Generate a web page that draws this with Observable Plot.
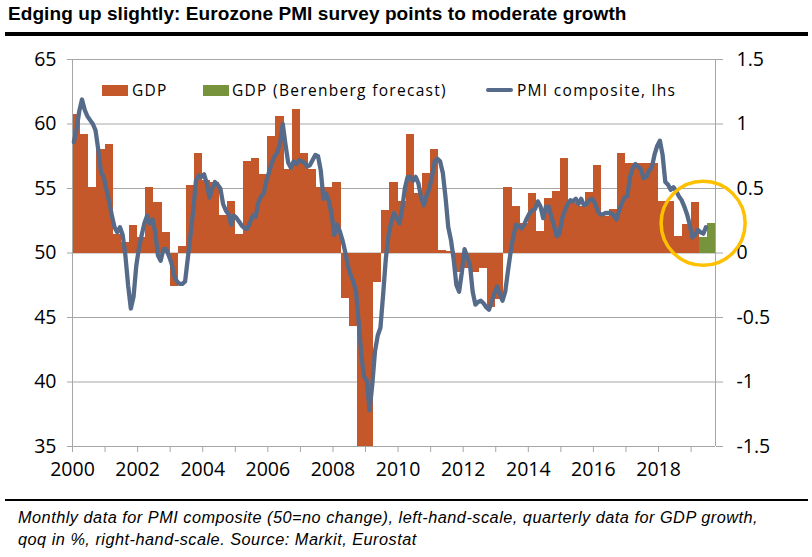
<!DOCTYPE html>
<html>
<head>
<meta charset="utf-8">
<script src="https://cdn.jsdelivr.net/npm/d3@7"></script>
<script src="https://cdn.jsdelivr.net/npm/@observablehq/plot@0.6"></script>
<style>
  body { margin: 0; background: #fff; }
  #wrap { position: relative; width: 812px; height: 557px; overflow: hidden; background: #fff; }
  #title { position: absolute; left: 8px; top: 4px; font: bold 19px/20px "Liberation Sans", Arial, sans-serif; letter-spacing: 0.08px; white-space: nowrap; color: #000; }
  .rule { position: absolute; left: 5px; width: 803px; background: #000; }
  #chart { position: absolute; left: 0; top: 40px; }
  .leg { position: absolute; font: 15.5px/20px "Open Sans", sans-serif; letter-spacing: 1.3px; white-space: nowrap; color: #000; }
  .sw { position: absolute; }
  #caption { position: absolute; left: 18px; top: 506px; font: italic 16.3px/22px "Liberation Sans", Arial, sans-serif; letter-spacing: 0.5px; color: #000; white-space: nowrap; }
</style>
</head>
<body>
<div id="wrap">
  <div id="title">Edging up slightly: Eurozone PMI survey points to moderate growth</div>
  <div class="rule" style="top:32px;height:3.5px"></div>
  <div id="chart"></div>
  <div id="legend"></div>
  <div class="rule" style="top:499px;height:2px"></div>
  <div id="caption"></div>
</div>
<script>
// ---- Data ----
const gdpStart = 2000; // first quarter: 2000 Q1
// Quarterly GDP growth, qoq in % (right-hand scale)
const gdpActual = [
  1.07, 0.92, 0.51, 0.80,   // 2000
  0.84, 0.14, 0.08, 0.21,   // 2001
  0.12, 0.51, 0.39, 0.16,   // 2002
  -0.26, 0.05, 0.52, 0.77,  // 2003
  0.56, 0.55, 0.29, 0.40,   // 2004
  0.14, 0.71, 0.73, 0.61,   // 2005
  0.90, 1.06, 0.65, 1.11,   // 2006
  0.77, 0.65, 0.51, 0.51,   // 2007
  0.55, -0.35, -0.57, -1.6, // 2008
  -2.9, -0.23, 0.33, 0.55,  // 2009
  0.40, 0.92, 0.46, 0.62,   // 2010
  0.80, 0.02, 0.01, -0.15,  // 2011
  -0.12, -0.15, -0.12, -0.42, // 2012
  -0.36, 0.51, 0.36, 0.23,  // 2013
  0.46, 0.17, 0.42, 0.48,   // 2014
  0.73, 0.38, 0.36, 0.47,   // 2015
  0.68, 0.28, 0.34, 0.77,   // 2016
  0.69, 0.69, 0.69, 0.69,   // 2017
  0.40, 0.40, 0.13, 0.22,   // 2018
  0.39                      // 2019 Q1
];
// Berenberg forecast: 2019 Q2, Q3
const gdpForecast = [0.12, 0.23];

// Monthly PMI composite (left-hand scale), Jan 2000 - Jun 2019
const pmiStart = 2000;
const pmi = [
  58.6, 59.6, 61.0, 61.9, 61.1, 60.6, 60.3, 60.0, 59.5, 58.0, 56.3, 55.9, // 2000
  54.9, 54.0, 52.9, 52.0, 51.6, 52.0, 51.4, 49.8, 47.5, 45.7, 46.6, 49.0, // 2001
  50.4, 51.4, 52.3, 52.9, 52.3, 52.6, 51.6, 49.8, 49.4, 50.3, 50.3, 49.8, // 2002
  49.2, 48.2, 47.8, 47.6, 47.6, 47.8, 49.6, 51.4, 53.3, 55.6, 56.0, 55.9, // 2003
  56.1, 55.4, 54.3, 55.0, 55.5, 55.3, 55.0, 53.8, 53.3, 53.0, 52.2, 52.9, // 2004
  52.7, 52.4, 52.1, 51.9, 51.9, 52.4, 52.9, 52.8, 53.9, 54.4, 54.6, 55.6, // 2005
  56.3, 57.0, 57.5, 57.8, 58.5, 60.0, 58.4, 57.0, 56.6, 57.1, 56.9, 57.2, // 2006
  57.1, 57.0, 56.7, 56.8, 57.2, 57.6, 57.5, 56.4, 54.2, 54.6, 54.0, 53.0, // 2007
  51.4, 52.2, 51.7, 51.0, 50.1, 49.0, 48.3, 47.8, 47.0, 44.6, 42.0, 40.4, // 2008
  40.1, 37.8, 39.8, 42.4, 43.6, 44.2, 46.8, 49.6, 51.4, 52.4, 53.1, 52.7, // 2009
  52.3, 53.4, 55.0, 55.9, 55.9, 55.6, 55.9, 55.4, 54.3, 53.7, 54.4, 55.0, // 2010
  55.9, 57.1, 57.3, 57.1, 56.2, 54.3, 52.0, 51.0, 49.5, 47.5, 47.0, 48.5, // 2011
  50.3, 49.7, 49.1, 47.0, 46.0, 46.2, 46.3, 46.1, 45.8, 45.6, 46.2, 46.9, // 2012
  47.4, 46.8, 46.3, 47.0, 48.6, 50.1, 51.3, 52.2, 52.1, 51.9, 52.2, 52.7, // 2013
  53.1, 53.3, 53.4, 54.0, 53.6, 52.7, 53.6, 53.6, 52.8, 52.1, 51.3, 51.5, // 2014
  52.7, 53.3, 53.8, 54.1, 54.0, 54.2, 53.8, 54.2, 53.7, 53.8, 54.1, 54.2, // 2015
  53.9, 53.3, 53.0, 53.0, 53.1, 53.1, 53.1, 52.9, 52.6, 53.3, 53.9, 54.3, // 2016
  54.4, 55.9, 56.6, 56.9, 56.7, 56.5, 55.8, 55.9, 56.4, 56.6, 57.6, 58.3, // 2017
  58.7, 57.6, 55.5, 55.3, 54.9, 55.1, 54.8, 54.4, 54.1, 53.6, 53.0, 52.2, // 2018
  51.2, 51.4, 51.8, 51.6, 51.5, 52.0                                      // 2019
];

const legendLabels = ["GDP", "GDP (Berenberg forecast)", "PMI composite, lhs"];
const lhsTicks = [35, 40, 45, 50, 55, 60, 65];
const rhsTicks = [-1.5, -1, -0.5, 0, 0.5, 1, 1.5];
const yearTicks = d3.range(2000, 2020);
const yearLabels = [2000, 2002, 2004, 2006, 2008, 2010, 2012, 2014, 2016, 2018];
const xDomain = [2000, 2019.75];
const highlight = [{t: 2019.37, v: 52.3}]; // circled latest readings
const captionLines = [
  "Monthly data for PMI composite (50=no change), left-hand-scale, quarterly data for GDP growth,",
  "qoq in %, right-hand-scale. Source: Markit, Eurostat"
];

// ---- Styling ----
const orange = "#C5582B";
const green = "#77933C";
const lineColor = "#566A8A";
const gray = "#A6A6A6";
const ring = "#FFC000";

// rhs value -> lhs (PMI) units: 0 <-> 50, 1.5 <-> 65
const toLhs = g => 50 + 10 * g;

const bars = gdpActual.map((g, k) => ({x1: gdpStart + k / 4, x2: gdpStart + (k + 1) / 4, g, s: legendLabels[0]}))
  .concat(gdpForecast.map((g, k) => {
    const q = gdpActual.length + k;
    return {x1: gdpStart + q / 4, x2: gdpStart + (q + 1) / 4, g, s: legendLabels[1]};
  }));
const pmiData = pmi.map((v, i) => ({t: pmiStart + (i + 0.5) / 12, v}));

const plot = Plot.plot({
  width: 812,
  height: 445,
  marginLeft: 72,
  marginRight: 97,
  marginTop: 19,
  marginBottom: 39,
  style: {fontFamily: "'Open Sans', sans-serif", fontSize: "19.5px", color: "#000", background: "transparent", overflow: "visible"},
  x: {domain: xDomain, label: null},
  y: {domain: [35, 65], label: null},
  color: {domain: legendLabels.slice(0, 2), range: [orange, green]},
  marks: [
    Plot.ruleY(lhsTicks, {stroke: gray, strokeWidth: 1}),
    Plot.rectY(bars, {x1: "x1", x2: "x2", y1: () => 50, y2: d => toLhs(d.g), fill: "s", clip: true, shapeRendering: "crispEdges"}),
    Plot.ruleX(xDomain, {stroke: gray, strokeWidth: 1}),
    Plot.axisY({anchor: "left", ticks: lhsTicks, tickSize: 5, tickPadding: 11, stroke: gray, tickFormat: d => String(d), label: null}),
    Plot.axisY({anchor: "right", ticks: rhsTicks.map(toLhs), tickSize: 7, tickPadding: 14, stroke: gray, tickFormat: d => String(Math.round((d - 50)) / 10), label: null}),
    Plot.axisX({ticks: yearTicks, tickSize: 6, stroke: gray, tickFormat: () => "", label: null}),
    Plot.axisX({ticks: yearLabels, tickSize: 0, tickPadding: 16, tickFormat: d => String(d), label: null}),
    Plot.line(pmiData, {x: "t", y: "v", stroke: lineColor, strokeWidth: 4.3, strokeLinejoin: "round", strokeLinecap: "round"}),
    Plot.dot(highlight, {x: "t", y: "v", r: 42, stroke: ring, strokeWidth: 3.5, fill: "none"})
  ]
});
document.getElementById("chart").appendChild(plot);

// ---- Legend (inside plot area, top) ----
const legend = document.getElementById("legend");
const legItems = [
  {label: legendLabels[0], kind: "box", color: orange, sx: 102, tx: 132},
  {label: legendLabels[1], kind: "box", color: green, sx: 203, tx: 232},
  {label: legendLabels[2], kind: "line", color: lineColor, sx: 486, tx: 517}
];
for (const it of legItems) {
  const sw = document.createElement("div");
  sw.className = "sw";
  if (it.kind === "box") {
    Object.assign(sw.style, {left: it.sx + "px", top: "84.5px", width: "26px", height: "11px", background: it.color});
  } else {
    Object.assign(sw.style, {left: it.sx + "px", top: "88.3px", width: "27px", height: "4px", background: it.color, borderRadius: "2px"});
  }
  legend.appendChild(sw);
  const tx = document.createElement("div");
  tx.className = "leg";
  tx.style.left = it.tx + "px";
  tx.style.top = "79.7px";
  tx.textContent = it.label;
  legend.appendChild(tx);
}

// ---- Caption ----
document.getElementById("caption").innerHTML = captionLines.map(s => s.replace(/&/g, "&amp;")).join("<br>");
</script>
</body>
</html>
